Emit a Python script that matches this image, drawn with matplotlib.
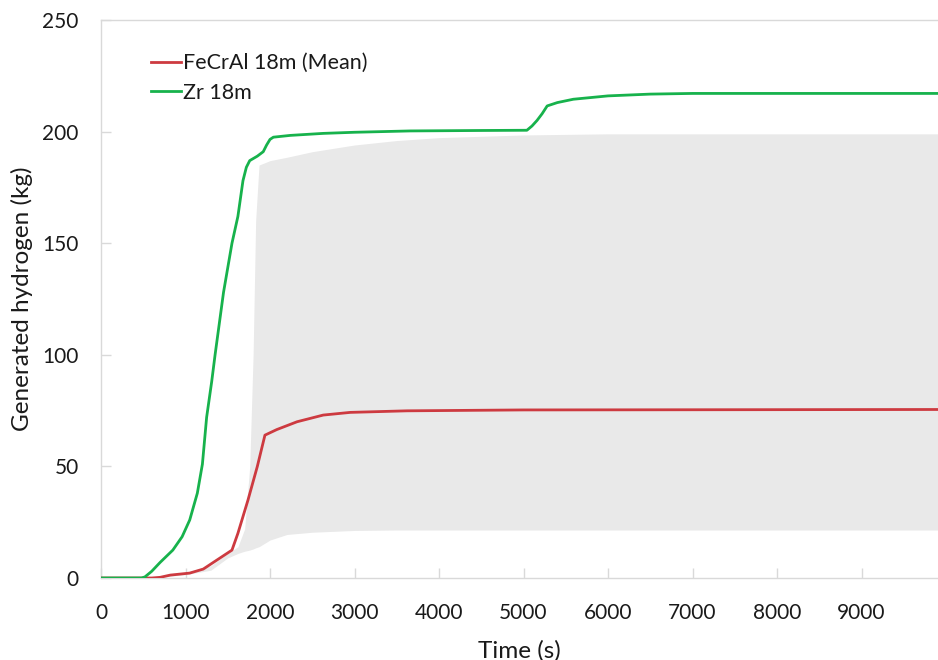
import matplotlib
matplotlib.use("Agg")
import matplotlib.pyplot as plt
import numpy as np

plt.rcParams['font.family'] = ['Lato', 'DejaVu Sans']

# Zr cladding, 18 m case
zr_time = [0, 480, 520, 600, 700, 850, 960, 1050, 1140, 1200, 1250, 1310, 1350,
           1450, 1550, 1620, 1680, 1720, 1760, 1850, 1920, 1960, 2000, 2040,
           2240, 2630, 3000, 3660, 4500, 5040, 5100, 5160, 5220, 5280, 5400,
           5590, 6000, 6500, 7000, 10000]
zr_h2 = [0, 0, 0.5, 3, 7, 12.5, 18.5, 26, 38, 51, 72, 88, 100,
         128, 150, 162, 178, 184, 187, 189, 191, 194, 196.5, 197.5,
         198.3, 199.2, 199.7, 200.3, 200.5, 200.6, 202.5, 205, 208, 211.5, 213,
         214.5, 216, 216.8, 217.1, 217.1]

# FeCrAl cladding, 18 m case: mean and spread of the sampled runs
fe_time = [0, 600, 700, 820, 1050, 1210, 1370, 1550, 1620, 1740, 1850, 1940,
           2080, 2320, 2630, 2950, 3620, 5000, 10000]
fe_mean = [0, 0, 0.3, 1.3, 2.2, 4, 8, 12.5, 20, 35, 50, 64,
           66.5, 70, 73, 74.2, 74.9, 75.3, 75.5]

band_time = [0, 600, 1000, 1300, 1500, 1620, 1700, 1760, 1800, 1830, 1870,
             2000, 2200, 2500, 3000, 3500, 4000, 5000, 6000, 10000]
band_low = [0, 0, 1.5, 3.5, 9, 11, 12, 12.5, 13, 13.5, 14,
            17, 19.5, 20.5, 21.3, 21.5, 21.5, 21.5, 21.5, 21.5]
band_high = [0, 0.2, 2.5, 5.5, 11, 14, 22, 50, 100, 160, 185,
             187, 188.5, 191, 194, 196, 197.3, 198.5, 199, 199]

x_ticks = [0, 1000, 2000, 3000, 4000, 5000, 6000, 7000, 8000, 9000]
y_ticks = [0, 50, 100, 150, 200, 250]

W, H = 938, 660
fig = plt.figure(figsize=(W / 100, H / 100), dpi=100)
ax = fig.add_axes([101 / W, (H - 578) / H, (W - 101) / W, (578 - 20) / H])

ax.fill_between(band_time, band_low, band_high, color='#e9e9e9', lw=0, zorder=1)
ax.plot(fe_time, fe_mean, color='#cd3a40', lw=2, label='FeCrAl 18m (Mean)', zorder=3)
ax.plot(zr_time, zr_h2, color='#17b24c', lw=2, label='Zr 18m', zorder=3)

ax.set_xlim(0, 9905)
ax.set_ylim(0, 250)
ax.set_xticks(x_ticks)
ax.set_yticks(y_ticks)
ax.set_xticklabels([str(v) for v in x_ticks])
ax.set_yticklabels([str(v) for v in y_ticks])

for side in ('left', 'bottom', 'top'):
    ax.spines[side].set_color('#d9d9d9')
    ax.spines[side].set_linewidth(1.0)
ax.spines['right'].set_visible(False)

ax.tick_params(axis='both', direction='in', length=7, width=1, color='#d9d9d9',
               labelsize=15, labelcolor='#1a1a1a')
ax.tick_params(axis='x', pad=18)
ax.tick_params(axis='y', pad=16)

ax.set_xlabel('Time (s)', fontsize=17.5, color='#1a1a1a', labelpad=12)
ax.set_ylabel('Generated hydrogen (kg)', fontsize=17.5, color='#1a1a1a', labelpad=7)

leg = ax.legend(loc='upper left', bbox_to_anchor=(0.036, 0.975), frameon=False,
                fontsize=15.5, handlelength=1.4, handletextpad=0.12, labelspacing=0.44)
for t in leg.get_texts():
    t.set_color('#1a1a1a')

fig.savefig('out.png', dpi=100)
